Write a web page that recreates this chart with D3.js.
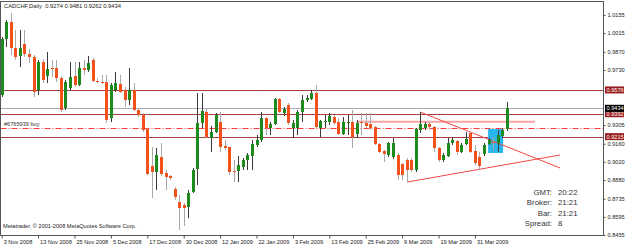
<!DOCTYPE html>
<html><head><meta charset="utf-8">
<script src="https://cdn.jsdelivr.net/npm/d3@7/dist/d3.min.js"></script>
<style>html,body{margin:0;padding:0;background:#fff;overflow:hidden}svg{display:block}</style>
</head><body><svg id="c" width="625" height="247"></svg>
<script>
// ---- data ----
const opens  = [.9537,.9970,1.0101,.9900,.9838,.9931,.9854,.9830,.9575,.9792,.9684,.9745,.9745,.9668,.9436,.9591,.9684,.9614,.9745,.9730,.9807,.9645,.9637,.9637,.9359,.9575,.9622,.9575,.9498,.9575,.9421,.9382,.9274,.8988,.8942,.9058,.8934,.8911,.8810,.8710,.8687,.8671,.8787,.8965,.9320,.9405,.9204,.9251,.9328,.9143,.9135,.8949,.8949,.8980,.9034,.9065,.9150,.9189,.9359,.9282,.9313,.9506,.9398,.9459,.9282,.9282,.9405,.9498,.9506,.9552,.9282,.9328,.9328,.9367,.9328,.9235,.9324,.9328,.9235,.9328,.9320,.9313,.9289,.9158,.9104,.9073,.9058,.9073,.9004,.9034,.9034,.8957,.9266,.9282,.9313,.9289,.9127,.9034,.9065,.9166,.9181,.9096,.9158,.9243,.9104,.9058,.9081,.9158,.9173,.9166,.9220,.9274];
const highs  = [.9985,1.0116,1.0170,1.0039,1.0039,1.0039,.9892,.9846,.9807,.9815,.9869,.9807,.9807,.9684,.9653,.9792,.9792,.9792,.9807,.9838,.9823,.9668,.9691,.9691,.9630,.9714,.9691,.9599,.9745,.9630,.9436,.9398,.9282,.9135,.9127,.9166,.8957,.8918,.8826,.8764,.8702,.8803,.8973,.9552,.9552,.9436,.9297,.9398,.9405,.9189,.9138,.9034,.9065,.9050,.9089,.9189,.9228,.9405,.9367,.9328,.9514,.9514,.9444,.9475,.9344,.9421,.9537,.9537,.9575,.9614,.9344,.9382,.9398,.9382,.9359,.9367,.9382,.9421,.9344,.9398,.9398,.9398,.9297,.9166,.9112,.9173,.9204,.9089,.9011,.9050,.9050,.9282,.9405,.9328,.9328,.9297,.9135,.9089,.9204,.9212,.9189,.9166,.9251,.9251,.9150,.9096,.9166,.9204,.9212,.9266,.9282,.9481];
const lows   = [.9521,.9908,.9846,.9807,.9753,.9830,.9784,.9521,.9537,.9630,.9630,.9676,.9637,.9405,.9421,.9575,.9599,.9606,.9691,.9714,.9637,.9630,.9622,.9320,.9328,.9560,.9552,.9444,.9459,.9413,.9367,.9251,.8918,.8741,.8803,.8911,.8803,.8880,.8725,.8496,.8524,.8586,.8779,.8841,.9282,.9204,.9096,.9243,.9096,.9112,.8918,.8864,.8864,.8957,.8957,.8957,.9135,.9173,.9228,.9228,.9305,.9398,.9374,.9305,.9204,.9228,.9328,.9483,.9498,.9282,.9212,.9282,.9305,.9305,.9228,.9228,.9228,.9127,.9204,.9228,.9282,.9266,.9150,.9089,.9019,.9058,.9042,.8880,.8880,.8864,.8942,.8942,.9243,.9266,.9266,.9096,.9019,.9019,.9058,.9150,.9073,.9089,.9150,.9089,.8996,.8957,.9065,.9150,.9112,.9096,.9204,.9262];
const closes = [.9970,1.0101,.9900,.9830,.9900,.9854,.9830,.9560,.9792,.9653,.9738,.9741,.9668,.9421,.9637,.9676,.9614,.9745,.9730,.9784,.9645,.9641,.9633,.9344,.9614,.9630,.9560,.9498,.9575,.9421,.9382,.9266,.8926,.8942,.9073,.8926,.8903,.8895,.8748,.8663,.8663,.8779,.8957,.9320,.9413,.9212,.9251,.9382,.9135,.9127,.8942,.8942,.8996,.9034,.9073,.9158,.9189,.9359,.9282,.9313,.9506,.9405,.9429,.9320,.9320,.9405,.9498,.9514,.9552,.9289,.9336,.9336,.9374,.9320,.9235,.9328,.9328,.9212,.9320,.9320,.9297,.9282,.9158,.9096,.9081,.9166,.9166,.8918,.8918,.8957,.8957,.9274,.9313,.9313,.9289,.9127,.9034,.9073,.9166,.9189,.9096,.9150,.9197,.9096,.9011,.8988,.9150,.9189,.9166,.9228,.9266,.9434];

const dateLabels = ["3 Nov 2008","13 Nov 2008","25 Nov 2008","5 Dec 2008","17 Dec 2008","30 Dec 2008","12 Jan 2009","22 Jan 2009","3 Feb 2009","13 Feb 2009","25 Feb 2009","9 Mar 2009","19 Mar 2009","31 Mar 2009"];
const dateBars   = [0,8,16,24,32,40,48,56,64,72,80,88,96,104];
const priceTicks = ["1.0155","1.0015","0.9870","0.9730","0.9305","0.9160","0.9020","0.8880","0.8735","0.8595","0.8455"];

const levelPrices = [0.9576, 0.9392, 0.9215];    // maroon horizontal lines with labels
const bidPrice    = 0.9434;
const orderPrice  = 0.9278;
const orderLabel  = "#6765939 buy";
const pinkLine    = {from: 78, to: 117.2, price: 0.9330};
const trendA      = [[92, 0.9405], [122.7, 0.8973]];
const trendB      = [[89.1, 0.8864], [122.7, 0.9073]];
const zone        = {from: 106.9, to: 110.2, top: 0.9274, bottom: 0.9089};
const titleText   = "CADCHF,Daily  0.9274 0.9481 0.9262 0.9434";
const creditText  = "Metatrader, \u00a9 2001-2008 MetaQuotes Software Corp.";
const infoLabels  = ["GMT:", "Broker:", "Bar:", "Spread:"];
const infoValues  = ["20:22", "21:21", "21:21", "8"];

(function () {
const pL = 0.5, pR = 603.5, pT = 1.5, pB = 235.5;
const FONT = "'Liberation Sans', Arial, sans-serif";
const svg = d3.select("#c");
const x = d3.scaleLinear().domain([0, 111]).range([1.7, 506.75]);
const y = d3.scaleLinear().domain([0.8455, 1.0155]).range([235, 15]);

svg.append("defs").append("clipPath").attr("id", "plot")
  .append("rect").attr("x", pL).attr("y", pT).attr("width", pR - pL).attr("height", pB - pT);
const plot = svg.append("g").attr("clip-path", "url(#plot)");

const py = p => Math.round(y(p)) + 0.5;

plot.selectAll(".lvl").data(levelPrices).join("line")
  .attr("x1", pL).attr("x2", pR).attr("y1", d => py(d)).attr("y2", d => py(d))
  .attr("stroke", "#a8413f").attr("stroke-width", 1);
plot.append("line").attr("x1", pL).attr("x2", pR).attr("y1", py(bidPrice)).attr("y2", py(bidPrice))
  .attr("stroke", "#aaaabb").attr("stroke-width", 1);
plot.append("line").attr("x1", pL).attr("x2", pR).attr("y1", py(orderPrice)).attr("y2", py(orderPrice))
  .attr("stroke", "#ff3c3c").attr("stroke-width", 1).attr("stroke-dasharray", "6,2,1,2");
plot.append("text").attr("x", 4).attr("y", py(orderPrice) - 2.5).text(orderLabel)
  .attr("font-family", FONT).attr("font-size", 5.6).attr("fill", "#333");
plot.append("line").attr("x1", x(pinkLine.from)).attr("x2", x(pinkLine.to))
  .attr("y1", y(pinkLine.price)).attr("y2", y(pinkLine.price))
  .attr("stroke", "#f6a3a3").attr("stroke-width", 2);

plot.append("rect").attr("x", x(zone.from)).attr("width", x(zone.to) - x(zone.from))
  .attr("y", y(zone.top)).attr("height", y(zone.bottom) - y(zone.top)).attr("fill", "#27b5ec");

[trendA, trendB].forEach(t => {
  plot.append("line").attr("x1", x(t[0][0])).attr("y1", y(t[0][1]))
    .attr("x2", x(t[1][0])).attr("y2", y(t[1][1]))
    .attr("stroke", "#f04848").attr("stroke-width", 1);
});

const idx = d3.range(opens.length);
const cg = plot.append("g").attr("shape-rendering", "crispEdges");
cg.selectAll(".wick").data(idx).join("line")
  .attr("x1", i => Math.round(x(i)) + 0.5).attr("x2", i => Math.round(x(i)) + 0.5)
  .attr("y1", i => y(highs[i])).attr("y2", i => y(lows[i]))
  .attr("stroke", i => closes[i] >= opens[i] ? "#3a3a3a" : "#a9a9a9");
cg.selectAll(".body").data(idx).join("rect")
  .attr("x", i => Math.round(x(i)) - 1).attr("width", 3)
  .attr("y", i => y(Math.max(opens[i], closes[i])))
  .attr("height", i => Math.max(1, Math.abs(y(opens[i]) - y(closes[i]))))
  .attr("fill", i => closes[i] >= opens[i] ? "#1c8a1c" : "#f4501c");

svg.append("rect").attr("x", pL).attr("y", pT).attr("width", pR - pL).attr("height", pB - pT)
  .attr("fill", "none").attr("stroke", "#555").attr("stroke-width", 1);

const ya = svg.append("g").attr("transform", `translate(${pR},0)`)
  .call(d3.axisRight(y).tickValues(priceTicks.map(Number)).tickFormat((d, i) => priceTicks[i]).tickSize(2).tickPadding(2));
ya.select(".domain").remove();
ya.selectAll("text").attr("font-family", FONT).attr("font-size", 5.6).attr("fill", "#222");
ya.selectAll("line").attr("stroke", "#555");

const boxes = levelPrices.map(p => ({p, fill: "#9b1c1c"})).concat([{p: bidPrice, fill: "#000"}]);
const bg = svg.append("g");
bg.selectAll("rect").data(boxes).join("rect")
  .attr("x", 605).attr("width", 19).attr("y", d => y(d.p) - 3.5).attr("height", 7).attr("fill", d => d.fill);
bg.selectAll("text").data(boxes).join("text")
  .attr("x", 606.5).attr("y", d => y(d.p) + 2).text(d => d.p.toFixed(4))
  .attr("font-family", FONT).attr("font-size", 5.6).attr("fill", "#fff");

const xa = svg.append("g").attr("transform", `translate(0,${pB})`)
  .call(d3.axisBottom(x).tickValues(dateBars).tickFormat((d, i) => dateLabels[i]).tickSize(3).tickPadding(2));
xa.select(".domain").remove();
xa.selectAll("text").attr("text-anchor", "start").attr("dx", 1.5).attr("dy", "0.55em")
  .attr("font-family", FONT).attr("font-size", 5.6).attr("fill", "#222");
xa.selectAll("line").attr("stroke", "#555");

svg.append("text").attr("x", 4).attr("y", 8).text(titleText)
  .style("white-space", "pre")
  .attr("font-family", FONT).attr("font-size", 5.8).attr("fill", "#222");
svg.append("text").attr("x", 3).attr("y", 228).text(creditText)
  .attr("font-family", FONT).attr("font-size", 5.6).attr("fill", "#222");
infoLabels.forEach((t, i) => {
  const by = 195 + i * 10.4;
  svg.append("text").attr("x", 552).attr("y", by).attr("text-anchor", "end").text(t)
    .attr("font-family", FONT).attr("font-size", 7.8).attr("fill", "#333");
  svg.append("text").attr("x", 558).attr("y", by).text(infoValues[i])
    .attr("font-family", FONT).attr("font-size", 7.8).attr("fill", "#333");
});
})();
</script></body></html>
